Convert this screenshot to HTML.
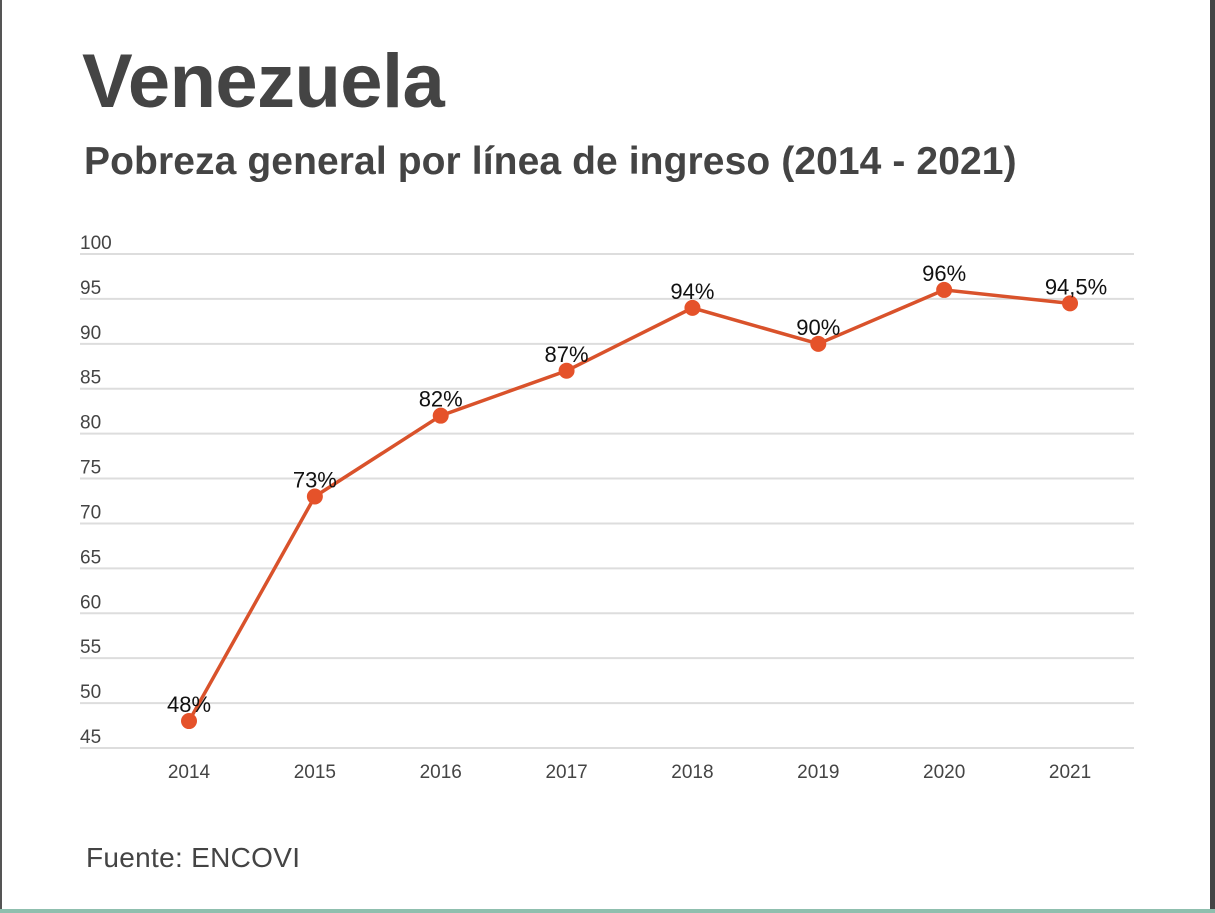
<!DOCTYPE html>
<html><head><meta charset="utf-8"><style>
body{margin:0;width:1215px;height:913px;background:#fff;overflow:hidden;position:relative;font-family:"Liberation Sans",sans-serif}
#lb{position:absolute;left:0;top:0;width:2px;height:913px;background:#555}
#rb{position:absolute;left:1210px;top:0;width:5px;height:913px;background:#444}
#bb{position:absolute;left:0;top:909px;width:1215px;height:4px;background:#8fbfae}
h1{position:absolute;left:82px;top:38px;margin:0;font-size:76px;font-weight:bold;color:#444;letter-spacing:-0.6px}
h2{position:absolute;left:84px;top:140px;margin:0;font-size:39px;font-weight:bold;color:#444;letter-spacing:0.1px}
#src{position:absolute;left:86px;top:842px;font-size:28px;color:#444;letter-spacing:0.3px}
svg{position:absolute;left:0;top:0}
</style></head><body>
<div id="lb"></div>
<div id="rb"></div>
<div id="bb"></div>
<h1>Venezuela</h1>
<h2>Pobreza general por línea de ingreso (2014 - 2021)</h2>
<div id="src">Fuente: ENCOVI</div>
<svg id="chart" width="1215" height="913"></svg>
<script>
const years=["2014","2015","2016","2017","2018","2019","2020","2021"];
const values=[48,73,82,87,94,90,96,94.5];
const labels=["48%","73%","82%","87%","94%","90%","96%","94,5%"];
const ticks=[45,50,55,60,65,70,75,80,85,90,95,100];
const NS="http://www.w3.org/2000/svg",svg=document.getElementById('chart');
const y=v=>254+(100-v)*(494/55);
const x=i=>189+i*125.86;
function mk(t,a){const e=document.createElementNS(NS,t);for(const k in a)e.setAttribute(k,a[k]);svg.appendChild(e);return e;}
ticks.forEach(t=>{
 const l=mk('line',{x1:80,x2:1134,y1:y(t),y2:y(t),stroke:'#ddd','stroke-width':2});
 
 
 const tx=mk('text',{x:80,y:y(t)-5,'font-size':19,fill:'#444','font-family':'Liberation Sans, sans-serif'});
 tx.textContent=t;
 
 
});
years.forEach((yr,i)=>{
 const tx=mk('text',{x:x(i),y:778,'font-size':19,fill:'#444','text-anchor':'middle','font-family':'Liberation Sans, sans-serif'});
 tx.textContent=yr;
 
 
});
const p=mk('polyline',{points:values.map((v,i)=>x(i)+','+y(v)).join(' '),fill:'none',stroke:'#d9522b','stroke-width':3.5});


values.forEach((v,i)=>{
 const c=mk('circle',{cx:x(i),cy:y(v),r:8,fill:'#e5522a'});
 
 
 const t=mk('text',{x:x(i)+(i==7?6:0),y:y(v)-9,'font-size':22,fill:'#111','text-anchor':'middle','font-family':'Liberation Sans, sans-serif'});
 t.textContent=labels[i];
 
 
});
</script>
</body></html>
